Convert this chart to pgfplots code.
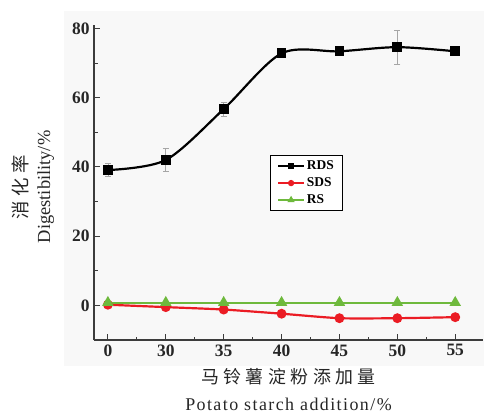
\documentclass[border=0pt]{standalone}
\usepackage{pgfplots}
\pgfplotsset{compat=1.18}
\usepackage{fontspec}
\setmainfont{Liberation Serif}
\newfontfamily\cjk[LetterSpace=25]{Noto Sans CJK SC}
\newfontfamily\spaced[LetterSpace=8]{Liberation Serif}
\definecolor{myred}{RGB}{235,28,36}
\definecolor{mygreen}{RGB}{110,185,60}
\definecolor{axgray}{RGB}{60,60,60}
\definecolor{panel}{RGB}{248,248,248}
\begin{document}
\begin{tikzpicture}[x=1bp,y=1bp]
\path[use as bounding box] (0,0) rectangle (484,415);
\fill[panel] (64,49) rectangle (484,404);
\begin{axis}[
  at={(94bp,75bp)}, anchor=south west,
  width=389bp, height=315bp, scale only axis,
  xmin=-0.24, xmax=6.48, ymin=-10, ymax=81,
  axis x line*=bottom, axis y line*=left,
  axis line style={axgray, line width=1.3pt, -},
  xtick={0,1,2,3,4,5,6},
  xticklabels={0,30,35,40,45,50,55},
  minor xtick={0.5,1.5,2.5,3.5,4.5,5.5},
  ytick={0,20,40,60,80},
  minor ytick={-10,10,30,50,70},
  tick align=inside,
  major tick length=6bp, minor tick length=3.5bp,
  tick style={axgray, line width=1pt},
  /pgf/number format/assume math mode=true,
  tick label style={font=\bfseries\fontsize{17.5}{17.5}\selectfont, text=black!85},
  xticklabel style={yshift=-1bp},
  yticklabel style={xshift=-1bp},
  xlabel={{\cjk 马铃薯淀粉添加量}\\{\spaced Potato\ starch\ addition/\%}},
  xlabel style={font=\fontsize{18}{27}\selectfont, align=center, at={(axis description cs:0.5,-0.158)}, anchor=center, text=black!85},
  ylabel={{\cjk 消化率}\\Digestibility/\%},
  ylabel style={font=\fontsize{18.5}{23}\selectfont, align=center, at={(axis description cs:-0.157,0.486)}, anchor=center, rotate=0, text=black!85},
  legend style={at={(axis description cs:0.452,0.587)}, anchor=north west,
    draw=black, line width=0.8pt, fill=white, font=\bfseries\fontsize{13.5}{14}\selectfont,
    inner xsep=7bp, inner ysep=3.5bp, row sep=2.5bp},
  legend cell align=left,
  legend image code/.code={\draw[#1, line width=1.6pt] (0cm,0cm) -- (0.9cm,0cm); \draw[#1,mark repeat=2,mark phase=2, mark size=2bp] plot coordinates {(0cm,0cm) (0.45cm,0cm) (0.9cm,0cm)};},
  clip=false,
]
\addplot[black, line width=2.2pt, smooth, mark=square*, mark size=3.8bp,
  error bars/.cd, y dir=both, y explicit,
  error bar style={gray!70, line width=0.6pt}, error mark options={gray!70, line width=0.6pt, mark size=3bp, rotate=90}]
  coordinates {(0,39.1) +- (0,1.9) (1,42.0) +- (0,3.3) (2,56.7) +- (0,2.0) (3,72.8) +- (0,0.5) (4,73.4) +- (0,1.2) (5,74.6) +- (0,5.0) (6,73.4) +- (0,1.2)};
\addlegendentry{RDS}
\addplot[myred, line width=2.2pt, smooth, tension=0.4, mark=*, mark size=3.8bp]
  coordinates {(0,0.2) (1,-0.5) (2,-1.2) (3,-2.4) (4,-3.7) (5,-3.7) (6,-3.4)};
\addlegendentry{SDS}
\addplot[mygreen, line width=2.2pt, mark=triangle*, mark size=4.5bp]
  coordinates {(0,0.8) (1,0.8) (2,0.8) (3,0.8) (4,0.8) (5,0.8) (6,0.8)};
\addlegendentry{RS}
\end{axis}
\end{tikzpicture}
\end{document}
